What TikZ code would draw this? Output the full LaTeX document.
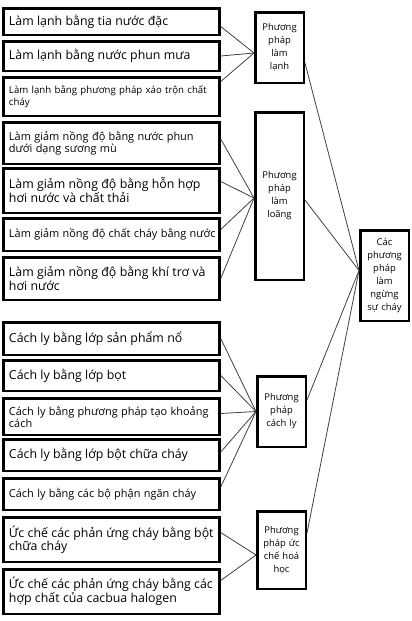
\documentclass[tikz,border=0pt]{standalone}
\usepackage{fontspec}
\setmainfont{Open Sans}
\usetikzlibrary{positioning}

\newcommand{\bigtxt}{\fontsize{12.35}{16}\selectfont}
\newcommand{\midtxt}{\fontsize{10.95}{13.8}\selectfont}
\newcommand{\smalltxt}{\fontsize{9.65}{13}\selectfont}

\begin{document}
\begin{tikzpicture}[x=1pt, y=1pt,
                          node distance=4pt,
                          leftbox/.style={rectangle, draw, line width=2.5pt, minimum width=216pt, text width=205pt, inner xsep=5.5pt, align=left, anchor=north},
                          methodbox/.style={rectangle, draw, line width=2.5pt, minimum width=48.5pt, text width=46pt, inner xsep=1pt, align=center, font=\fontsize{9.4}{13}\selectfont},
                          link/.style={black!75, line width=0.8pt},
                      ]
                      \useasboundingbox (0,0) rectangle (412,-621);
                      %Nodes
                      \node[leftbox, minimum height=26.5pt]  (l1)  at (111.5,-7)    {\bigtxt Làm lạnh bằng tia nước đặc};
                      \node[leftbox, minimum height=29.5pt]  (l2)  [below=of l1]  {\bigtxt Làm lạnh bằng nước phun mưa};
                      \node[leftbox, minimum height=38.5pt]  (l3)  [below=of l2]  {\smalltxt Làm lạnh bằng phương pháp xáo trộn chất\\ cháy};
                      \node[leftbox, minimum height=41.5pt]  (l4)  [below=of l3]  {\midtxt Làm giảm nồng độ bằng nước phun\\ dưới dạng sương mù};
                      \node[leftbox, minimum height=44.5pt]  (l5)  [below=2pt of l4]  {\bigtxt Làm giảm nồng độ bằng hỗn hợp\\ hơi nước và chất thải};
                      \node[leftbox, minimum height=32.5pt]  (l6)  [below=3pt of l5]  {\midtxt\mbox{Làm giảm nồng độ chất cháy bằng nước}};
                      \node[leftbox, minimum height=42.5pt]  (l7)  [below=of l6]  {\bigtxt Làm giảm nồng độ bằng khí trơ và\\ hơi nước};
                      \node[leftbox, minimum height=32.5pt]  (l8)  [below=20pt of l7]  {\bigtxt Cách ly bằng lớp sản phẩm nổ};
                      \node[leftbox, minimum height=30.5pt]  (l9)  [below=3pt of l8]  {\bigtxt Cách ly bằng lớp bọt};
                      \node[leftbox, minimum height=36.5pt]  (l10) [below=5pt of l9]  {\midtxt Cách ly bằng phương pháp tạo khoảng\\ cách};
                      \node[leftbox, minimum height=31.5pt]  (l11) [below=2pt of l10] {\bigtxt Cách ly bằng lớp bột chữa cháy};
                      \node[leftbox, minimum height=31.5pt]  (l12) [below=5pt of l11] {\midtxt Cách ly bằng các bộ phận ngăn cháy};
                      \node[leftbox, minimum height=44.5pt]  (l13) [below=5pt of l12] {\bigtxt Ức chế các phản ứng cháy bằng bột\\ chữa cháy};
                      \node[leftbox, minimum height=44.5pt]  (l14) [below=5pt of l13] {\bigtxt Ức chế các phản ứng cháy bằng các\\ hợp chất của cacbua halogen};

                      \node[methodbox, minimum height=70.5pt]  (cool)   at (279.5,-47.5)  {Phương\\ pháp\\ làm\\ lạnh};
                      \node[methodbox, minimum height=167.5pt] (dilute) at (279.5,-196)   {Phương\\ pháp\\ làm\\ loãng};
                      \node[methodbox, minimum height=70.5pt]  (isolate) at (281.5,-411.5) {Phương\\ pháp\\ cách ly};
                      \node[methodbox, minimum height=77.5pt]  (inhibit) at (281.5,-550)  {Phương\\ pháp ức\\ chế hoá\\ học};
                      \node[methodbox, minimum height=90.5pt]  (stop)    at (384.5,-275.5) {Các\\ phương\\ pháp\\ làm\\ ngừng\\ sự cháy};

                      %Lines
                      \draw[link] ([yshift=-5pt]l1.east) -- ([yshift=-5.5pt]cool.west);
                      \draw[link] (l2.east) -- ([yshift=-5.5pt]cool.west);
                      \draw[link] ([yshift=15pt]l3.east) -- ([yshift=-5.5pt]cool.west);
                      \draw[link] ([yshift=4pt]l4.east) -- ([yshift=-2pt]dilute.west);
                      \draw[link] ([yshift=9pt]l5.east) -- ([yshift=-2pt]dilute.west);
                      \draw[link] ([yshift=5pt]l6.east) -- ([yshift=-2pt]dilute.west);
                      \draw[link] (l7.east) -- ([yshift=-2pt]dilute.west);
                      \draw[link] (l8.east) -- (isolate.west);
                      \draw[link] (l9.east) -- (isolate.west);
                      \draw[link] ([yshift=3pt]l10.east) -- (isolate.west);
                      \draw[link] ([yshift=3pt]l11.east) -- (isolate.west);
                      \draw[link] ([yshift=7pt]l12.east) -- (isolate.west);
                      \draw[link] ([yshift=7pt]l13.east) -- ([yshift=-5pt]inhibit.west);
                      \draw[link] ([yshift=11pt]l14.east) -- ([yshift=-5pt]inhibit.west);
                      \draw[link] ([yshift=-15.5pt]cool.east) -- ([yshift=5pt]stop.west);
                      \draw[link] ([yshift=-4pt]dilute.east) -- ([yshift=5pt]stop.west);
                      \draw[link] ([yshift=11.5pt]isolate.east) -- ([yshift=5pt]stop.west);
                      \draw[link] ([yshift=17pt]inhibit.east) -- ([yshift=5pt]stop.west);
                  \end{tikzpicture}
\end{document}
